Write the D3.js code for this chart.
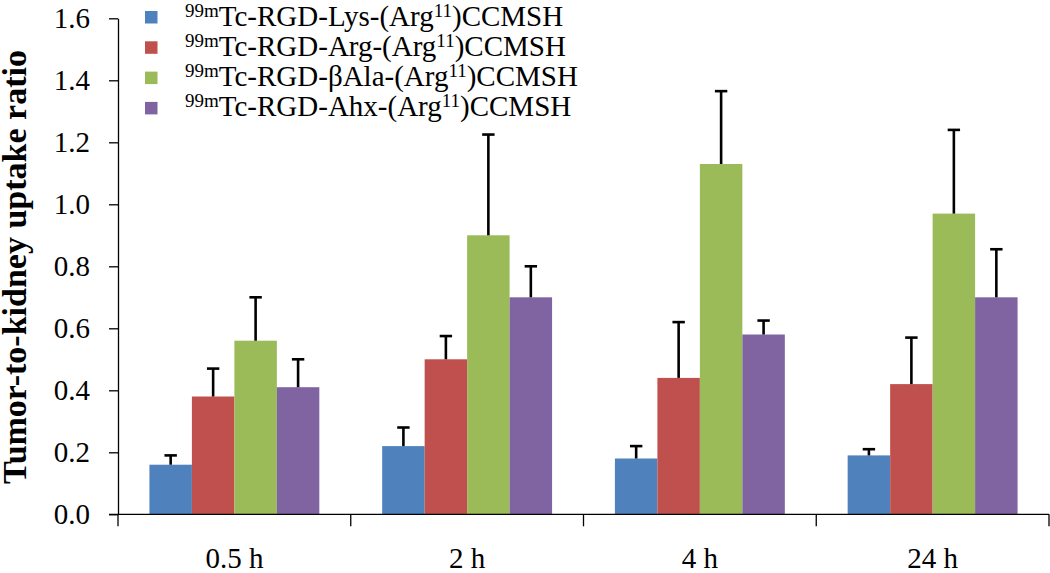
<!DOCTYPE html>
<html>
<head>
<meta charset="utf-8">
<script src="https://cdn.jsdelivr.net/npm/d3@7"></script>
<style>
  html, body { margin: 0; padding: 0; background: #fff; }
  svg { display: block; }
  svg text { font-family: 'Liberation Serif', 'Times New Roman', serif !important; fill: #000; }
</style>
</head>
<body>
<svg id="chart" width="1050" height="573" font-family="Liberation Serif"></svg>
<script>
// ---- data ----
const categories = ["0.5 h", "2 h", "4 h", "24 h"];
const seriesKeys = ["Lys", "Arg", "\u03b2Ala", "Ahx"];
const seriesColors = ["#4F81BD", "#C0504D", "#9BBB59", "#8064A2"];
const lysValues  = [0.16, 0.22, 0.18, 0.19];
const lysErrors  = [0.03, 0.06, 0.04, 0.02];
const argValues  = [0.38, 0.50, 0.44, 0.42];
const argErrors  = [0.09, 0.075, 0.18, 0.15];
const balaValues = [0.56, 0.90, 1.13, 0.97];
const balaErrors = [0.14, 0.325, 0.235, 0.27];
const ahxValues  = [0.41, 0.70, 0.58, 0.70];
const ahxErrors  = [0.09, 0.10, 0.045, 0.155];
const yTicks = [0, 0.2, 0.4, 0.6, 0.8, 1.0, 1.2, 1.4, 1.6];
const yTitle = "Tumor-to-kidney uptake ratio";

const seriesValues = [lysValues, argValues, balaValues, ahxValues];
const seriesErrors = [lysErrors, argErrors, balaErrors, ahxErrors];

// ---- layout ----
const FONT = "'Liberation Serif', 'Times New Roman', serif";
const svg = d3.select("#chart");
const plotLeft = 118, plotRight = 1049, plotTop = 18.3, plotBottom = 514.3;
const x0 = d3.scaleBand().domain(categories).range([plotLeft, plotRight]).padding(0);
const bw = x0.bandwidth();
const inner = bw * 0.73;
const x1 = d3.scaleBand().domain(seriesKeys).range([(bw - inner) / 2, (bw + inner) / 2]).padding(0);
const y = d3.scaleLinear().domain([0, 1.6]).range([plotBottom, plotTop]);

const rows = [];
seriesKeys.forEach((k, si) => {
  categories.forEach((c, ci) => {
    rows.push({ key: k, cat: c, v: seriesValues[si][ci], e: seriesErrors[si][ci], color: seriesColors[si] });
  });
});

// bars
svg.append("g").selectAll("rect").data(rows).join("rect")
  .attr("x", d => x0(d.cat) + x1(d.key))
  .attr("y", d => y(d.v))
  .attr("width", x1.bandwidth())
  .attr("height", d => y(0) - y(d.v))
  .attr("fill", d => d.color);

// error bars
const eg = svg.append("g").attr("stroke", "#000").attr("stroke-width", 2.6).attr("fill", "none");
rows.forEach(d => {
  const cx = x0(d.cat) + x1(d.key) + x1.bandwidth() / 2;
  eg.append("line").attr("x1", cx).attr("x2", cx).attr("y1", y(d.v)).attr("y2", y(d.v + d.e));
  eg.append("line").attr("x1", cx - 6.2).attr("x2", cx + 6.2).attr("y1", y(d.v + d.e)).attr("y2", y(d.v + d.e));
});

// y axis
const yAxis = d3.axisLeft(y).tickValues(yTicks).tickFormat(d3.format(".1f"))
  .tickSize(9).tickSizeOuter(0).tickPadding(19);
const gy = svg.append("g").attr("transform", `translate(${plotLeft},0)`).call(yAxis)
  .attr("font-family", FONT).attr("font-size", 29);
gy.select(".domain").attr("stroke", "#000").attr("stroke-width", 1.3);
gy.selectAll(".tick line").attr("stroke", "#000").attr("stroke-width", 1.3);
gy.selectAll(".tick text").attr("font-family", FONT).attr("font-size", 29).attr("fill", "#000");

// x axis
const xAxis = d3.axisBottom(x0).tickSize(0).tickPadding(33);
const gx = svg.append("g").attr("transform", `translate(0,${plotBottom})`).call(xAxis)
  .attr("font-family", FONT).attr("font-size", 29);
gx.select(".domain").remove();
gx.selectAll(".tick text").attr("font-family", FONT).attr("font-size", 29).attr("fill", "#000");
svg.append("line").attr("x1", plotLeft - 9).attr("x2", plotRight).attr("y1", plotBottom).attr("y2", plotBottom)
  .attr("stroke", "#000").attr("stroke-width", 1.3);
const bounds = categories.map(c => x0(c)).concat([x0(categories[categories.length - 1]) + bw]);
svg.append("g").selectAll("line").data(bounds).join("line")
  .attr("x1", d => d).attr("x2", d => d).attr("y1", plotBottom).attr("y2", plotBottom + 12)
  .attr("stroke", "#000").attr("stroke-width", 1.3);

// y title
svg.append("text")
  .attr("transform", `translate(25.5,${(48 + 486) / 2}) rotate(-90)`)
  .attr("text-anchor", "middle")
  .attr("font-family", FONT)
  .attr("font-size", 34).attr("font-weight", "bold")
  .text(yTitle);

// legend
const lg = svg.append("g").attr("font-family", FONT);
seriesKeys.forEach((k, i) => {
  const by = 25.5 + i * 30.3;
  lg.append("rect").attr("x", 145).attr("y", by - 14.5).attr("width", 12.5).attr("height", 12.5)
    .attr("fill", seriesColors[i]);
  const t = lg.append("text").attr("x", 185).attr("y", by).attr("font-family", FONT).attr("font-size", 29);
  t.append("tspan").attr("dy", -9).attr("font-size", 19).text("99m");
  t.append("tspan").attr("dy", 9).text(`Tc-RGD-${k}-(Arg`);
  t.append("tspan").attr("dy", -9).attr("font-size", 19).text("11");
  t.append("tspan").attr("dy", 9).text(")CCMSH");
});
</script>
</body>
</html>
